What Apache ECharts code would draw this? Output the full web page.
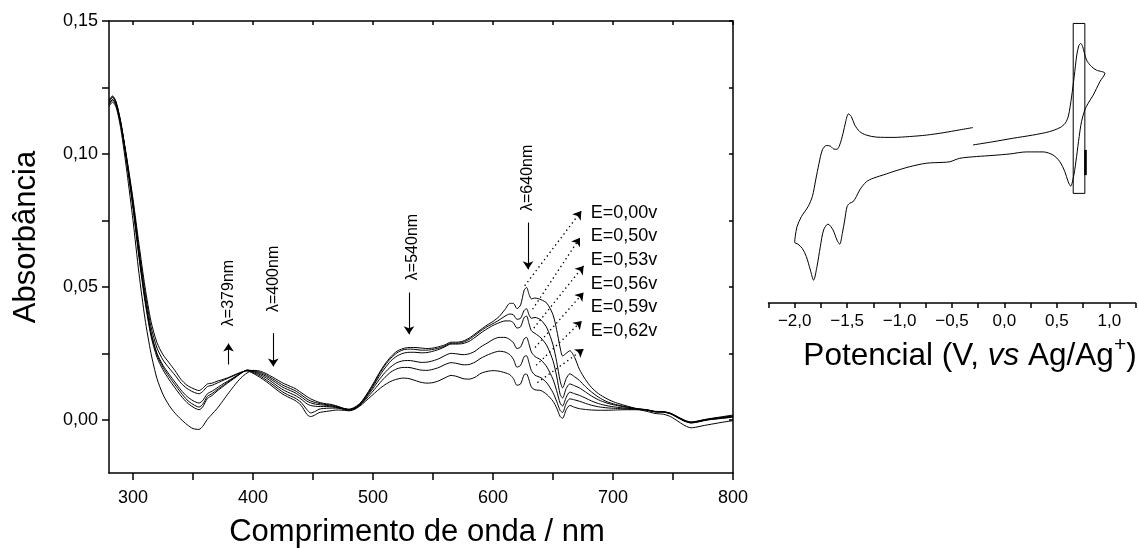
<!DOCTYPE html>
<html>
<head>
<meta charset="utf-8">
<script src="https://cdn.jsdelivr.net/npm/echarts@6/dist/echarts.min.js"></script>
<style>
html,body{margin:0;padding:0;background:#fff}
#chart{width:1139px;height:548px}
</style>
</head>
<body>
<div id="chart"></div>
<script>
// Wavelength grid (nm) shared by all spectra
const wavelength = [280, 283, 286, 290, 295, 300, 305, 310, 315, 320, 325, 330, 335, 340, 345, 350, 355, 358, 362, 366,
  370, 375, 380, 385, 390, 395, 400, 405, 410, 415, 420, 425, 430, 435, 440, 445, 448, 452, 455, 460,
  465, 470, 475, 480, 485, 490, 495, 500, 505, 510, 515, 520, 525, 530, 535, 540, 545, 550, 555, 560,
  565, 570, 575, 580, 585, 590, 595, 600, 605, 610, 614, 617, 620, 623, 626, 628, 630, 632, 635, 640,
  645, 650, 653, 656, 658, 661, 664, 668, 672, 677, 682, 688, 695, 702, 710, 720, 728, 735, 742, 748,
  755, 760, 765, 770, 775, 780, 790, 800];

// Absorbance spectra at each applied potential
const absE000 = [0.1180, 0.1195, 0.1175, 0.1090, 0.0930, 0.0750, 0.0550, 0.0380, 0.0250, 0.0155,
  0.0095, 0.0055, 0.0025, 0.0002, -0.0018, -0.0033, -0.0036, -0.0025, 0.0002, 0.0022,
  0.0042, 0.0072, 0.0103, 0.0132, 0.0158, 0.0176, 0.0186, 0.0184, 0.0176, 0.0164,
  0.0151, 0.0138, 0.0128, 0.0118, 0.0103, 0.0087, 0.0079, 0.0071, 0.0066, 0.0061,
  0.0058, 0.0052, 0.0044, 0.0040, 0.0048, 0.0066, 0.0098, 0.0135, 0.0175, 0.0210,
  0.0238, 0.0258, 0.0268, 0.0272, 0.0272, 0.0270, 0.0268, 0.0270, 0.0275, 0.0282,
  0.0292, 0.0292, 0.0296, 0.0307, 0.0323, 0.0340, 0.0356, 0.0370, 0.0388, 0.0415,
  0.0438, 0.0438, 0.0418, 0.0432, 0.0488, 0.0498, 0.0472, 0.0455, 0.0458, 0.0452,
  0.0438, 0.0395, 0.0340, 0.0270, 0.0240, 0.0250, 0.0260, 0.0235, 0.0190, 0.0152,
  0.0122, 0.0098, 0.0079, 0.0065, 0.0054, 0.0042, 0.0038, 0.0032, 0.0031, 0.0025,
  0.0009, -0.0002, -0.0008, -0.0005, 0.0000, 0.0004, 0.0011, 0.0018];
const absE050 = [0.1185, 0.1203, 0.1182, 0.1105, 0.0960, 0.0795, 0.0610, 0.0445, 0.0315, 0.0235,
  0.0188, 0.0152, 0.0120, 0.0090, 0.0065, 0.0048, 0.0038, 0.0048, 0.0080, 0.0092,
  0.0108, 0.0125, 0.0142, 0.0158, 0.0175, 0.0187, 0.0185, 0.0180, 0.0171, 0.0158,
  0.0144, 0.0130, 0.0120, 0.0110, 0.0095, 0.0078, 0.0071, 0.0065, 0.0062, 0.0058,
  0.0055, 0.0050, 0.0043, 0.0039, 0.0046, 0.0064, 0.0095, 0.0130, 0.0170, 0.0205,
  0.0232, 0.0252, 0.0263, 0.0266, 0.0265, 0.0262, 0.0262, 0.0265, 0.0270, 0.0278,
  0.0288, 0.0288, 0.0292, 0.0302, 0.0318, 0.0335, 0.0350, 0.0362, 0.0375, 0.0390,
  0.0398, 0.0395, 0.0378, 0.0382, 0.0412, 0.0418, 0.0395, 0.0382, 0.0385, 0.0375,
  0.0345, 0.0282, 0.0220, 0.0145, 0.0120, 0.0155, 0.0173, 0.0162, 0.0148, 0.0125,
  0.0105, 0.0085, 0.0068, 0.0058, 0.0050, 0.0042, 0.0038, 0.0031, 0.0030, 0.0024,
  0.0008, -0.0003, -0.0009, -0.0006, -0.0001, 0.0003, 0.0009, 0.0015];
const absE053 = [0.1195, 0.1212, 0.1190, 0.1110, 0.0965, 0.0805, 0.0620, 0.0455, 0.0325, 0.0245,
  0.0198, 0.0163, 0.0132, 0.0102, 0.0075, 0.0058, 0.0048, 0.0058, 0.0088, 0.0099,
  0.0113, 0.0129, 0.0145, 0.0160, 0.0176, 0.0187, 0.0183, 0.0176, 0.0166, 0.0152,
  0.0137, 0.0122, 0.0112, 0.0102, 0.0087, 0.0070, 0.0064, 0.0059, 0.0057, 0.0055,
  0.0052, 0.0048, 0.0042, 0.0038, 0.0045, 0.0062, 0.0092, 0.0125, 0.0162, 0.0195,
  0.0222, 0.0240, 0.0250, 0.0254, 0.0254, 0.0252, 0.0253, 0.0258, 0.0265, 0.0275,
  0.0285, 0.0285, 0.0287, 0.0295, 0.0310, 0.0327, 0.0342, 0.0355, 0.0365, 0.0372,
  0.0372, 0.0365, 0.0345, 0.0350, 0.0385, 0.0390, 0.0362, 0.0335, 0.0325, 0.0308,
  0.0278, 0.0222, 0.0165, 0.0095, 0.0082, 0.0118, 0.0135, 0.0128, 0.0120, 0.0105,
  0.0090, 0.0075, 0.0063, 0.0055, 0.0048, 0.0041, 0.0037, 0.0031, 0.0030, 0.0023,
  0.0007, -0.0004, -0.0010, -0.0007, -0.0002, 0.0002, 0.0008, 0.0013];
const absE056 = [0.1205, 0.1218, 0.1195, 0.1115, 0.0970, 0.0810, 0.0625, 0.0460, 0.0330, 0.0250,
  0.0205, 0.0172, 0.0142, 0.0112, 0.0088, 0.0072, 0.0063, 0.0072, 0.0098, 0.0108,
  0.0120, 0.0135, 0.0148, 0.0162, 0.0176, 0.0186, 0.0181, 0.0172, 0.0160, 0.0145,
  0.0128, 0.0113, 0.0102, 0.0092, 0.0078, 0.0060, 0.0054, 0.0051, 0.0050, 0.0050,
  0.0049, 0.0046, 0.0041, 0.0037, 0.0043, 0.0060, 0.0088, 0.0118, 0.0150, 0.0178,
  0.0200, 0.0215, 0.0222, 0.0223, 0.0220, 0.0216, 0.0217, 0.0222, 0.0230, 0.0242,
  0.0250, 0.0248, 0.0245, 0.0248, 0.0258, 0.0275, 0.0288, 0.0302, 0.0310, 0.0310,
  0.0302, 0.0290, 0.0268, 0.0274, 0.0305, 0.0310, 0.0285, 0.0255, 0.0238, 0.0225,
  0.0198, 0.0152, 0.0110, 0.0062, 0.0052, 0.0085, 0.0104, 0.0098, 0.0092, 0.0082,
  0.0071, 0.0061, 0.0053, 0.0048, 0.0044, 0.0040, 0.0037, 0.0030, 0.0029, 0.0023,
  0.0006, -0.0005, -0.0011, -0.0008, -0.0003, 0.0001, 0.0006, 0.0011];
const absE059 = [0.1200, 0.1215, 0.1192, 0.1115, 0.0975, 0.0820, 0.0640, 0.0480, 0.0350, 0.0270,
  0.0225, 0.0195, 0.0168, 0.0138, 0.0118, 0.0105, 0.0098, 0.0106, 0.0125, 0.0130,
  0.0138, 0.0148, 0.0158, 0.0168, 0.0178, 0.0185, 0.0178, 0.0167, 0.0153, 0.0137,
  0.0120, 0.0104, 0.0092, 0.0082, 0.0066, 0.0038, 0.0026, 0.0032, 0.0040, 0.0043,
  0.0044, 0.0044, 0.0040, 0.0036, 0.0042, 0.0058, 0.0082, 0.0108, 0.0135, 0.0160,
  0.0180, 0.0192, 0.0197, 0.0197, 0.0192, 0.0187, 0.0186, 0.0190, 0.0197, 0.0208,
  0.0215, 0.0212, 0.0207, 0.0208, 0.0217, 0.0232, 0.0243, 0.0252, 0.0258, 0.0255,
  0.0245, 0.0228, 0.0198, 0.0205, 0.0238, 0.0241, 0.0215, 0.0185, 0.0168, 0.0158,
  0.0138, 0.0102, 0.0070, 0.0035, 0.0028, 0.0062, 0.0079, 0.0075, 0.0070, 0.0062,
  0.0055, 0.0049, 0.0045, 0.0043, 0.0041, 0.0040, 0.0036, 0.0030, 0.0029, 0.0022,
  0.0005, -0.0006, -0.0012, -0.0009, -0.0004, 0.0000, 0.0005, 0.0010];
const absE062 = [0.1188, 0.1205, 0.1185, 0.1110, 0.0980, 0.0830, 0.0660, 0.0500, 0.0370, 0.0290,
  0.0245, 0.0215, 0.0185, 0.0152, 0.0130, 0.0118, 0.0110, 0.0118, 0.0135, 0.0138,
  0.0145, 0.0152, 0.0160, 0.0170, 0.0179, 0.0184, 0.0175, 0.0162, 0.0147, 0.0130,
  0.0112, 0.0096, 0.0084, 0.0073, 0.0055, 0.0020, 0.0012, 0.0019, 0.0027, 0.0031,
  0.0034, 0.0037, 0.0036, 0.0034, 0.0040, 0.0055, 0.0075, 0.0095, 0.0115, 0.0132,
  0.0145, 0.0153, 0.0157, 0.0155, 0.0148, 0.0141, 0.0138, 0.0140, 0.0147, 0.0158,
  0.0167, 0.0163, 0.0155, 0.0153, 0.0160, 0.0175, 0.0182, 0.0185, 0.0183, 0.0177,
  0.0170, 0.0155, 0.0130, 0.0135, 0.0170, 0.0172, 0.0150, 0.0123, 0.0113, 0.0110,
  0.0095, 0.0070, 0.0045, 0.0012, 0.0006, 0.0038, 0.0054, 0.0047, 0.0042, 0.0039,
  0.0037, 0.0036, 0.0036, 0.0037, 0.0038, 0.0038, 0.0032, 0.0024, 0.0021, 0.0012,
  -0.0008, -0.0022, -0.0030, -0.0027, -0.0022, -0.0018, -0.0010, -0.0003];

// Axis ticks and labels of the spectrum panel
const wavelengthTicks = [300, 350, 400, 450, 500, 550, 600, 650, 700, 750, 800];
const wavelengthLabels = [300, 400, 500, 600, 700, 800];
const absorbanceTicks = [0, 0.025, 0.05, 0.075, 0.1, 0.125, 0.15];
const absorbanceLabels = [0, 0.05, 0.1, 0.15];

// Band markers: wavelength text and the arrow showing the trend with potential
const bandText = ['λ=379nm', 'λ=400nm', 'λ=540nm', 'λ=640nm'];
const bandTextAt = [[379.6, 0.0477], [417.4, 0.0530], [533.0, 0.0650], [629.2, 0.0910]];
const bandArrowX = [379.6, 416.9, 530.0, 629.2];
const bandArrowFrom = [0.0208, 0.0326, 0.0479, 0.0742];
const bandArrowTo = [0.0287, 0.0201, 0.0322, 0.0566];

// Potential labels and the dotted pointers to each spectrum
const potentialText = ['E=0,00v', 'E=0,50v', 'E=0,53v', 'E=0,56v', 'E=0,59v', 'E=0,62v'];
const potentialTextAt = [[681, 0.0779], [681, 0.0691], [681, 0.0601], [681, 0.0510], [681, 0.0423], [681, 0.0335]];
const pointerFrom = [[626.4, 0.0504], [633, 0.0416], [634, 0.0345], [635, 0.0272], [636, 0.0205], [637, 0.0140]];
const pointerTo = [[673.6, 0.0785], [672.5, 0.0685], [675.5, 0.0579], [675.5, 0.0479], [674, 0.0372], [675.5, 0.0266]];

// Cyclic voltammogram (potential in V vs Ag/Ag+, current in arbitrary units)
const cvPotential = [-0.30, -0.11, 0.08, 0.27, 0.43, 0.53, 0.58, 0.61, 0.64, 0.665, 0.69, 0.71, 0.728, 0.745, 0.783, 0.831, 0.878, 0.958,
  0.910, 0.847, 0.799, 0.767, 0.735, 0.713, 0.688, 0.662, 0.631, 0.608, 0.576, 0.529, 0.465, 0.370, 0.211, 0.052, -0.108, -0.267,
  -0.426, -0.521, -0.585, -0.744, -0.903, -1.062, -1.126, -1.253, -1.317, -1.380, -1.412, -1.444, -1.476, -1.501, -1.523, -1.546,
  -1.571, -1.597, -1.635, -1.683, -1.724, -1.756, -1.788, -1.820, -1.851, -1.889, -1.927, -1.969, -2.000,
  -1.995, -1.978, -1.936, -1.873, -1.832, -1.800, -1.768, -1.736, -1.698, -1.660, -1.628, -1.597, -1.571, -1.539, -1.514, -1.488,
  -1.460, -1.428, -1.380, -1.317, -1.221, -1.062, -0.903, -0.744, -0.585, -0.426, -0.300];
const cvCurrent = [4.5, 5.6, 6.8, 7.9, 9.1, 10.5, 12.0, 14.5, 21.0, 28.0, 35.5, 38.8, 39.5, 38.5, 33.8, 31.5, 30.3, 29.2,
  26.3, 21.7, 18.9, 16.6, 12.5, 7.4, 0.5, -5.9, -9.7, -8.2, -4.7, -1.3, 1.0, 2.1, 2.1, 1.4, 0.9, 0.5,
  -0.1, -1.3, -1.5, -1.8, -3.0, -4.7, -5.5, -7.0, -8.2, -11.0, -13.3, -15.1, -15.6, -16.8, -21.4, -26.0,
  -29.7, -28.3, -24.8, -22.8, -24.8, -30.6, -37.5, -42.1, -38.6, -34.0, -31.2, -29.7, -29.1,
  -27.1, -23.7, -20.2, -16.8, -13.3, -7.6, -1.8, 2.8, 4.3, 4.1, 3.1, 3.0, 4.5, 8.5, 12.5, 15.2,
  14.3, 11.4, 9.1, 7.9, 7.2, 7.1, 7.4, 7.9, 8.7, 9.7, 10.5];

// Potential window used for the spectra, boxed on the voltammogram
const windowPotential = [0.656, 0.767];
const windowCurrent = [46.4, -12.2];
const windowMarkCurrent = [2.8, -5.9];

const FONT = "'Liberation Sans', Arial, Helvetica, sans-serif";
const INK = '#000';
const comma = (v, d) => v.toFixed(d).replace('.', ',').replace('-', '\u2212');

const spectra = [absE000, absE050, absE053, absE056, absE059, absE062];

const spectrumSeries = spectra.map((values, s) => ({
  type: 'line',
  name: potentialText[s],
  xAxisIndex: 0,
  yAxisIndex: 0,
  data: wavelength.map((w, i) => [w, values[i]]),
  showSymbol: false,
  symbol: 'none',
  smooth: 0.25,
  lineStyle: { color: INK, width: 1 },
  silent: true,
  z: 3
}));

// Arrows and labels drawn in data space on the first spectrum
spectrumSeries[0].markLine = {
  silent: true,
  animation: false,
  symbol: ['none', 'arrow'],
  symbolSize: 8,
  label: { show: false },
  emphasis: { disabled: true },
  data: [
    ...bandArrowX.map((x, i) => [
      { coord: [x, bandArrowFrom[i]], lineStyle: { color: INK, width: 1.1, type: 'solid' } },
      { coord: [x, bandArrowTo[i]] }
    ]),
    ...pointerFrom.map((p, i) => [
      { coord: p, lineStyle: { color: INK, width: 1.3, type: [1.4, 3.2] } },
      { coord: pointerTo[i] }
    ])
  ]
};
spectrumSeries[0].markPoint = {
  silent: true,
  animation: false,
  symbol: 'circle',
  symbolSize: 1,
  itemStyle: { color: 'rgba(0,0,0,0)' },
  data: [
    ...bandText.map((t, i) => ({
      coord: bandTextAt[i],
      label: { show: true, formatter: t, position: 'inside', rotate: 90, fontSize: 16, color: INK, fontFamily: FONT }
    })),
    ...potentialText.map((t, i) => ({
      coord: potentialTextAt[i],
      label: { show: true, formatter: t, position: 'right', distance: 0, fontSize: 18, color: INK, fontFamily: FONT }
    }))
  ]
};

const cvSeries = {
  type: 'line',
  name: 'CV',
  xAxisIndex: 2,
  yAxisIndex: 2,
  data: cvPotential.map((v, i) => [v, cvCurrent[i]]),
  showSymbol: false,
  symbol: 'none',
  smooth: 0.3,
  lineStyle: { color: INK, width: 1 },
  silent: true,
  markArea: {
    silent: true,
    itemStyle: { color: 'rgba(0,0,0,0)', borderColor: INK, borderWidth: 1 },
    data: [[
      { coord: [windowPotential[0], windowCurrent[0]] },
      { coord: [windowPotential[1], windowCurrent[1]] }
    ]]
  },
  markLine: {
    silent: true,
    animation: false,
    symbol: ['none', 'none'],
    label: { show: false },
    lineStyle: { color: INK, width: 2.6, type: 'solid' },
    data: [[
      { coord: [windowPotential[1], windowMarkCurrent[0]] },
      { coord: [windowPotential[1], windowMarkCurrent[1]] }
    ]]
  }
};

const axisLineStyle = { show: true, onZero: false, lineStyle: { color: INK, width: 1.5 } };
const tickLineStyle = { color: INK, width: 1.5 };

const option = {
  animation: false,
  backgroundColor: '#fff',
  textStyle: { fontFamily: FONT, color: INK },
  grid: [
    { left: 109, top: 21, width: 624, height: 452, outerBoundsMode: 'none' },
    { left: 768.5, top: 13, width: 367, height: 290, outerBoundsMode: 'none' }
  ],
  xAxis: [
    {
      gridIndex: 0, type: 'value', min: 280, max: 800, position: 'bottom',
      axisLine: axisLineStyle,
      axisTick: { show: true, inside: false, length: 7, customValues: wavelengthTicks, lineStyle: tickLineStyle },
      axisLabel: { customValues: wavelengthLabels, fontSize: 18, color: INK, margin: 16, fontFamily: FONT },
      splitLine: { show: false },
      name: 'Comprimento de onda / nm', nameLocation: 'middle', nameGap: 44,
      nameTextStyle: { fontSize: 31, color: INK, fontFamily: FONT, padding: [0, 8, 0, 0] }
    },
    {
      gridIndex: 0, type: 'value', min: 280, max: 800, position: 'top',
      axisLine: axisLineStyle,
      axisTick: { show: true, inside: true, length: 4, customValues: wavelengthTicks, lineStyle: tickLineStyle },
      axisLabel: { show: false },
      splitLine: { show: false }
    },
    {
      gridIndex: 1, type: 'value', min: -2.25, max: 1.25, interval: 0.25, position: 'bottom',
      axisLine: axisLineStyle,
      axisTick: { show: true, inside: false, length: 5, lineStyle: tickLineStyle },
      axisLabel: {
        fontSize: 17, color: INK, margin: 10, fontFamily: FONT,
        showMinLabel: true, showMaxLabel: true,
        formatter: v => (Math.abs(v * 2 - Math.round(v * 2)) < 1e-6 ? comma(v, 1) : '')
      },
      splitLine: { show: false },
      name: 'Potencial (V, {it|vs} Ag/Ag{sup|+})',
      nameLocation: 'middle', nameGap: 26,
      nameTextStyle: {
        fontSize: 31.5, color: INK, fontFamily: FONT, padding: [0, 0, 0, 36],
        rich: {
          it: { fontSize: 31.5, fontStyle: 'italic', color: INK, fontFamily: FONT },
          sup: { fontSize: 21, color: INK, fontFamily: FONT, padding: [0, 0, 21, 0] }
        }
      }
    }
  ],
  yAxis: [
    {
      gridIndex: 0, type: 'value', min: -0.02, max: 0.15, position: 'left',
      axisLine: axisLineStyle,
      axisTick: { show: true, inside: false, length: 7, customValues: absorbanceTicks, lineStyle: tickLineStyle },
      axisLabel: { customValues: absorbanceLabels, fontSize: 18, color: INK, margin: 11, fontFamily: FONT, formatter: v => comma(v, 2) },
      splitLine: { show: false },
      name: 'Absorbância', nameLocation: 'middle', nameGap: 67,
      nameTextStyle: { fontSize: 31, color: INK, fontFamily: FONT, padding: [0, 0, 0, 20] }
    },
    {
      gridIndex: 0, type: 'value', min: -0.02, max: 0.15, position: 'right',
      axisLine: axisLineStyle,
      axisTick: { show: true, inside: true, length: 4, customValues: absorbanceTicks, lineStyle: tickLineStyle },
      axisLabel: { show: false },
      splitLine: { show: false }
    },
    {
      gridIndex: 1, type: 'value', min: -50, max: 50, show: false,
      axisLine: { show: false, onZero: false },
      splitLine: { show: false }
    }
  ],
  series: [...spectrumSeries, cvSeries]
};

const chart = echarts.init(document.getElementById('chart'), null, { renderer: 'canvas' });
chart.setOption(option);
</script>
</body>
</html>
